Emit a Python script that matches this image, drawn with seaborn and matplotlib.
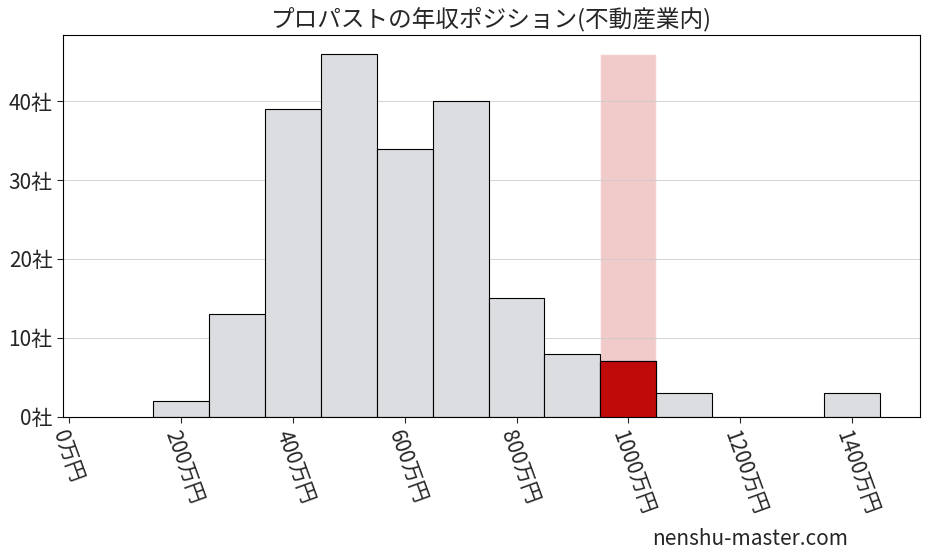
import matplotlib
matplotlib.use("Agg")
import matplotlib.pyplot as plt
import seaborn as sns
import numpy as np
import pandas as pd

bin_centers = [200, 300, 400, 500, 600, 700, 800, 900, 1000, 1100, 1200, 1300, 1400]
counts = [2, 13, 39, 46, 34, 40, 15, 8, 7, 3, 0, 0, 3]
highlight_center = 1000
highlight_count = 7
xticks = [0, 200, 400, 600, 800, 1000, 1200, 1400]
xtick_labels = ["0万円", "200万円", "400万円", "600万円", "800万円", "1000万円", "1200万円", "1400万円"]
yticks = [0, 10, 20, 30, 40]
ytick_labels = ["0社", "10社", "20社", "30社", "40社"]

sns.set_style("white")
plt.rcParams['font.family'] = ['Noto Sans CJK JP', 'DejaVu Sans']

fig, ax = plt.subplots(figsize=(9.27, 5.57), dpi=100)
fig.subplots_adjust(left=0.068, right=0.992, top=0.937, bottom=0.252)

df = pd.DataFrame({"x": bin_centers, "w": counts})
edges = [150 + 100 * i for i in range(14)]
sns.histplot(data=df, x="x", weights="w", bins=edges, ax=ax,
             color="#dcdde0", edgecolor="black", linewidth=0.8, alpha=1)
ax.bar([highlight_center], [max(counts)], width=100, color="#e8a8a8", alpha=0.6, zorder=0.5)
ax.bar([highlight_center], [highlight_count], width=100, color="#c00a0a", edgecolor="black", linewidth=0.8, zorder=3)

ax.set_xlim(-10, 1520)
ax.set_ylim(0, 48.4)
ax.set_xticks(xticks)
ax.set_xticklabels(xtick_labels, rotation=-70, ha="left", rotation_mode="anchor", fontsize=15)
ax.set_yticks(yticks)
ax.set_yticklabels(ytick_labels, fontsize=15)
ax.tick_params(axis="both", length=4, direction="out", bottom=True, left=True)
ax.yaxis.grid(True, color="#cccccc", linewidth=0.6)
ax.set_axisbelow(True)
ax.set_xlabel("")
ax.set_ylabel("")
for s in ax.spines.values():
    s.set_color("black"); s.set_linewidth(0.8)
ax.set_title("プロパストの年収ポジション(不動産業内)", fontsize=17)
fig.text(0.915, 0.022, "nenshu-master.com", ha="right", fontsize=15)
fig.savefig("out.png")
